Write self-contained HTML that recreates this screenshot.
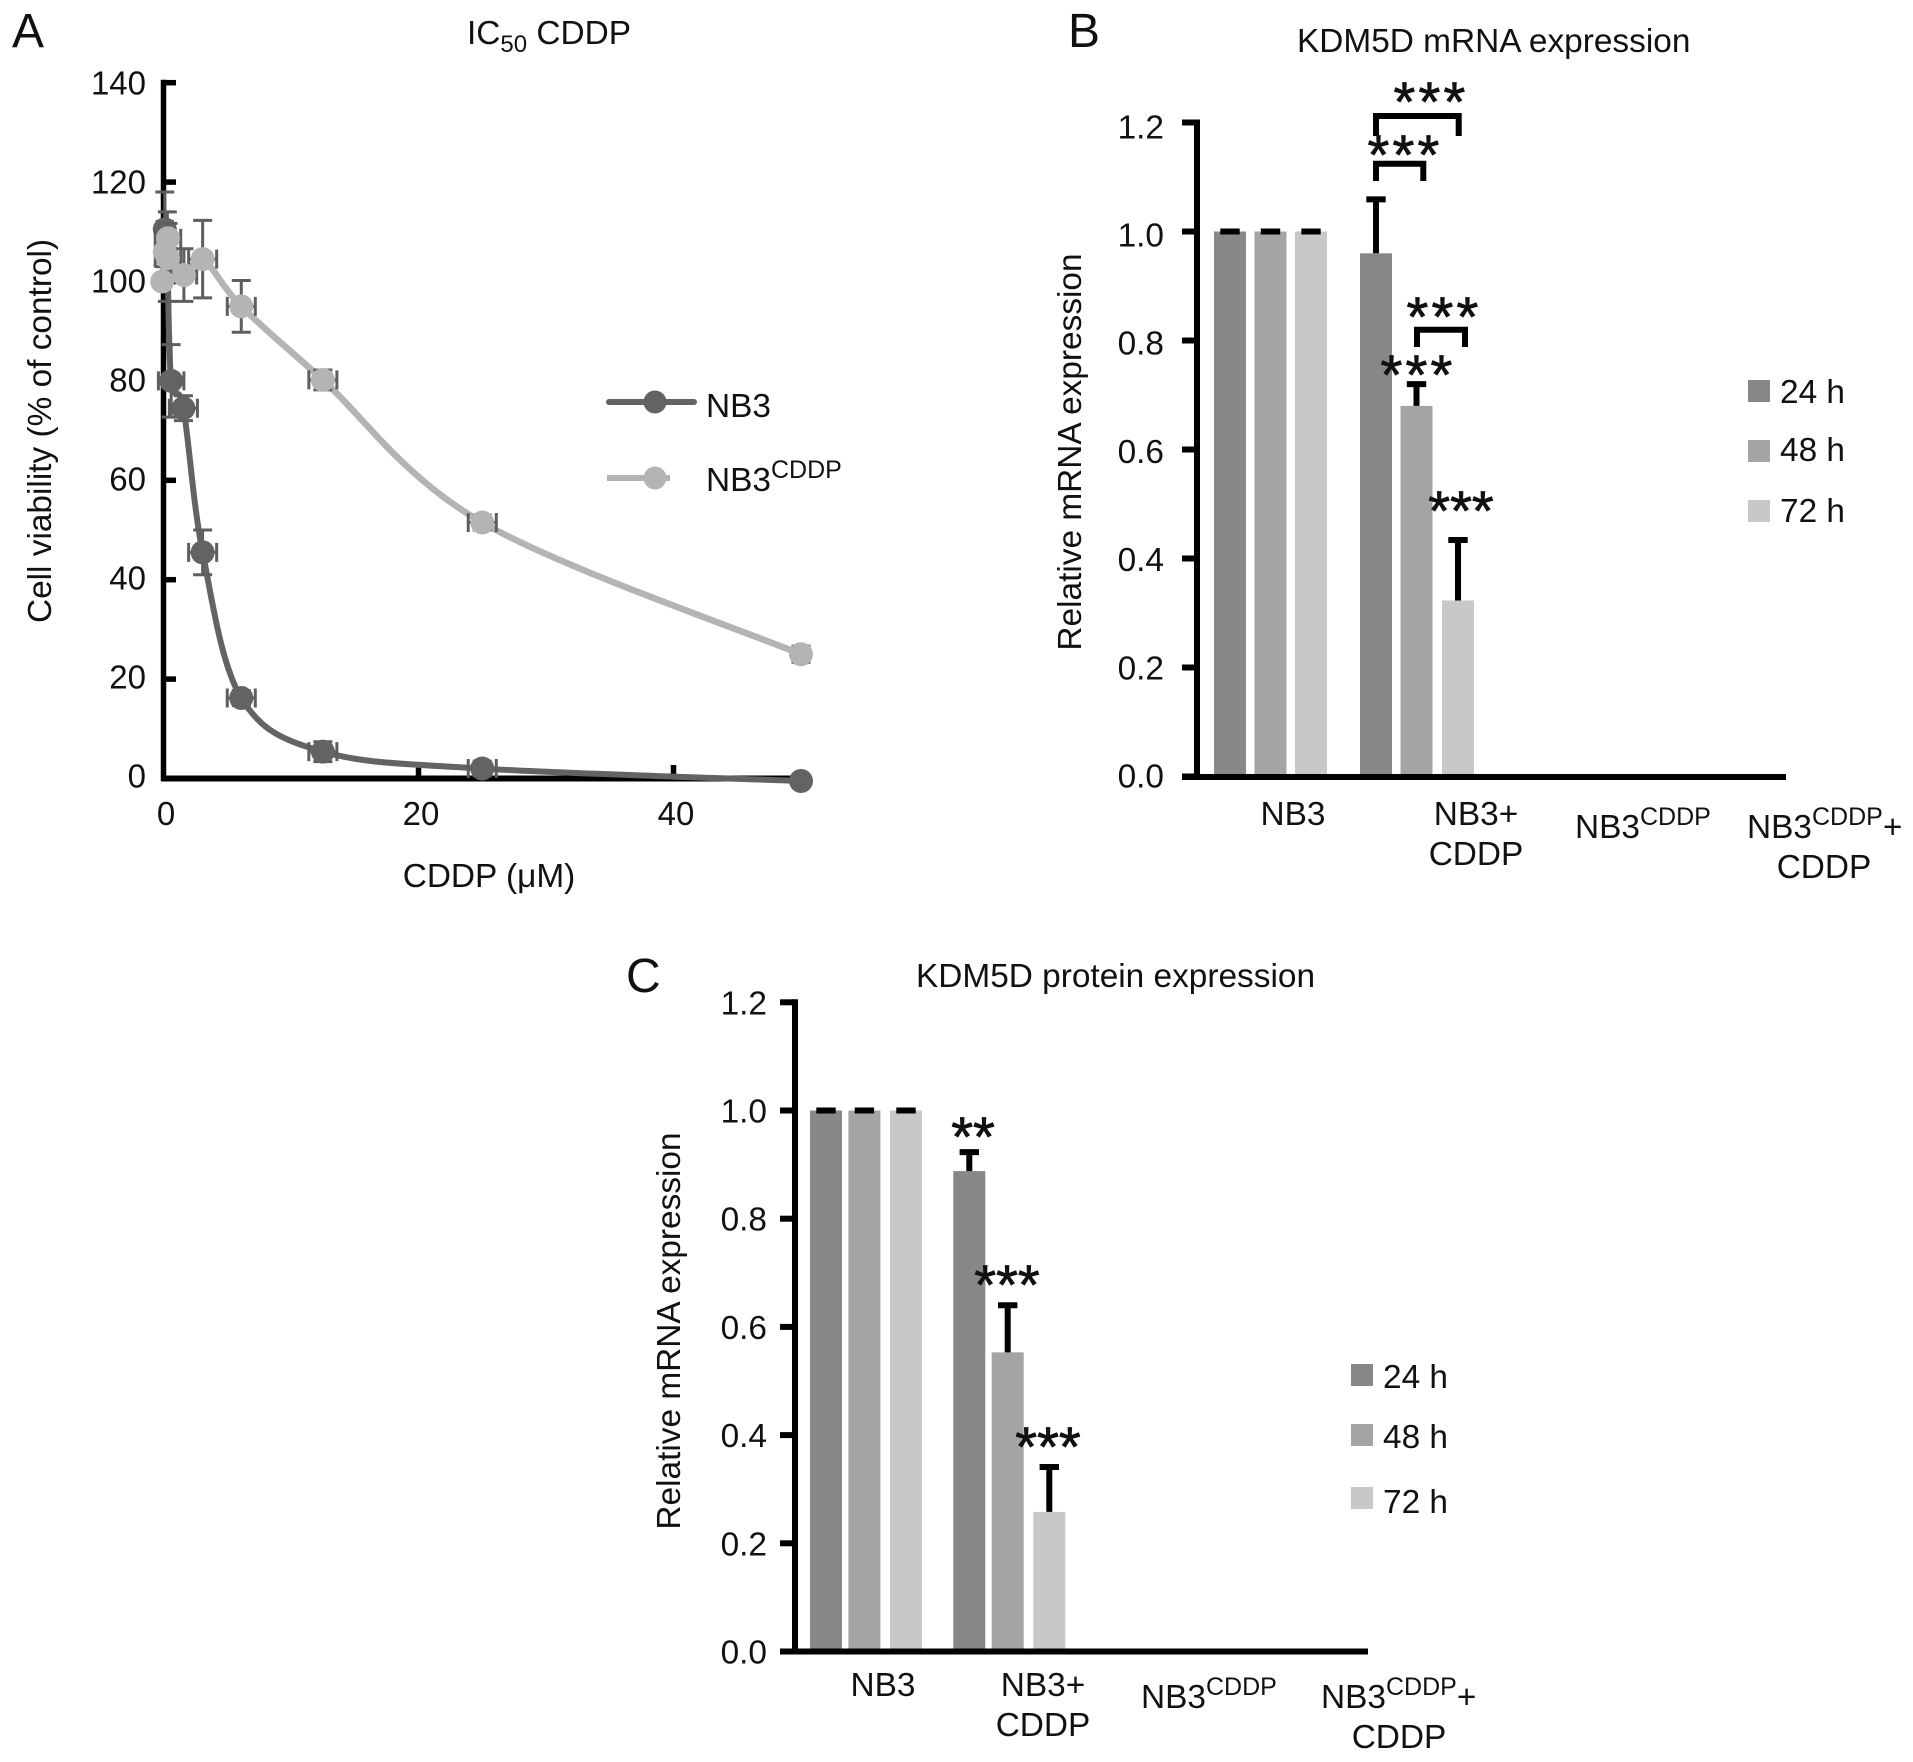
<!DOCTYPE html>
<html lang="en">
<head>
<meta charset="utf-8">
<title>IC50 CDDP and KDM5D expression</title>
<style>
html,body{margin:0;padding:0;background:#fff;width:1913px;height:1762px;overflow:hidden}
svg{display:block}
text{font-family:"Liberation Sans",Arial,sans-serif;font-size:33.4px;fill:#111}
.panel{font-size:48px}
.star{font-size:56px;text-anchor:middle;fill:#111;stroke:#111;stroke-width:.8px}
.wide{letter-spacing:3.2px}
.mid{text-anchor:middle}
.tick-a{font-size:33px}
</style>
</head>
<body>
<svg id="fig" width="1913" height="1762" viewBox="0 0 1913 1762" xmlns="http://www.w3.org/2000/svg">
  <g id="panelA">
    <text class="panel" x="12" y="47">A</text>
    <text x="467" y="44">IC<tspan dy="8" font-size="24">50</tspan><tspan dy="-8"> CDDP</tspan></text>
    <text class="mid" transform="translate(51,431) rotate(-90)">Cell viability (% of control)</text>
    <text class="mid" x="489" y="887">CDDP (μM)</text>
    <g>
      <line x1="609" y1="402" x2="694" y2="402" stroke="#636363" stroke-width="6" stroke-linecap="round"/>
      <circle cx="655" cy="402" r="11.500" fill="#636363"/>
      <text x="706" y="417">NB3</text>
      <line x1="607" y1="478" x2="670" y2="478" stroke="#b4b4b4" stroke-width="6"/>
      <circle cx="655" cy="478" r="11.500" fill="#b4b4b4"/>
      <text x="706" y="491">NB3<tspan dy="-13" font-size="25">CDDP</tspan></text>
    </g>
  </g>
  <g id="panelB">
    <text class="panel" x="1068" y="47">B</text>
    <text x="1297" y="52">KDM5D mRNA expression</text>
    <text class="mid" transform="translate(1081,452) rotate(-90)">Relative mRNA expression</text>
    <g>
      <text class="mid" x="1293" y="825">NB3</text>
      <text class="mid" x="1476" y="825">NB3+</text>
      <text class="mid" x="1476" y="865">CDDP</text>
      <text x="1575" y="838">NB3<tspan dy="-13" font-size="25">CDDP</tspan></text>
      <text x="1747" y="838">NB3<tspan dy="-13" font-size="25">CDDP</tspan><tspan dy="13">+</tspan></text>
      <text class="mid" x="1824" y="878">CDDP</text>
    </g>
    <g id="sigB">
      <path d="M1376 136V116H1458.700V136M1376 181V163.700H1423.300V181M1417 347V329.700H1465V347" fill="none" stroke="#000" stroke-width="6"/>
      <text class="star wide" x="1431" y="121">***</text>
      <text class="star wide" x="1405" y="174">***</text>
      <text class="star wide" x="1444" y="336">***</text>
      <text class="star wide" x="1418" y="394">***</text>
      <text class="star" x="1461" y="530">***</text>
    </g>
    <g>
      <rect x="1748" y="380" width="22" height="22" fill="#888888"/>
      <text x="1780" y="403">24 h</text>
      <rect x="1748" y="440" width="22" height="22" fill="#a4a4a4"/>
      <text x="1780" y="461">48 h</text>
      <rect x="1748" y="500" width="22" height="22" fill="#c8c8c8"/>
      <text x="1780" y="522">72 h</text>
    </g>
  </g>
  <g id="panelC">
    <text class="panel" x="626" y="992">C</text>
    <text x="916" y="987">KDM5D protein expression</text>
    <text class="mid" transform="translate(680,1331) rotate(-90)">Relative mRNA expression</text>
    <g>
      <text class="mid" x="883" y="1696">NB3</text>
      <text class="mid" x="1043" y="1696">NB3+</text>
      <text class="mid" x="1043" y="1736">CDDP</text>
      <text x="1141" y="1708">NB3<tspan dy="-13" font-size="25">CDDP</tspan></text>
      <text x="1321" y="1708">NB3<tspan dy="-13" font-size="25">CDDP</tspan><tspan dy="13">+</tspan></text>
      <text class="mid" x="1399" y="1748">CDDP</text>
    </g>
    <g id="sigC">
      <text class="star" x="973" y="1156">**</text>
      <text class="star" x="1007" y="1304">***</text>
      <text class="star" x="1048" y="1466">***</text>
    </g>
    <g>
      <rect x="1351" y="1364" width="22" height="22" fill="#888888"/>
      <text x="1383" y="1388">24 h</text>
      <rect x="1351" y="1424" width="22" height="22" fill="#a4a4a4"/>
      <text x="1383" y="1448">48 h</text>
      <rect x="1351" y="1487" width="22" height="22" fill="#c8c8c8"/>
      <text x="1383" y="1513">72 h</text>
    </g>
  </g>
</svg>
<script>
// ---------- Panel A data ----------
const doseTicks = [0, 20, 40];
const viabilityTicks = [0, 20, 40, 60, 80, 100, 120, 140];
const nb3Dose = [0.1, 0.3, 0.6, 1.56, 3.07, 6.1, 12.5, 25, 50];
const nb3Viability = [110.5, 105, 80, 74.5, 45.5, 16.2, 5.4, 2, -0.5];
const nb3ViabilityErr = [7.5, 9, 7.3, 2.5, 4.5, 1.5, 2, 1.5, 0.5];
const nb3DoseErr = [0.6, 0.6, 1, 1.1, 1.1, 1.1, 1.1, 1.1, 0];
const cddpDose = [-0.1, 0.1, 0.35, 0.35, 1.6, 3.07, 6.1, 12.5, 25, 50];
const cddpViability = [100, 106, 104.7, 108.7, 101.3, 104.5, 95, 80.2, 51.5, 25];
const cddpViabilityErr = [0, 3, 3, 3, 5.3, 7.8, 5.2, 2, 1.5, 1.6];
const cddpDoseErr = [0, 0.6, 1, 1, 1, 1.1, 1.1, 1.1, 1.1, 0.6];

// ---------- Panels B and C data ----------
const categories = ['NB3', 'NB3+CDDP', 'NB3CDDP', 'NB3CDDP+CDDP'];
const hours = ['24 h', '48 h', '72 h'];
const expressionTicks = ['0.0', '0.2', '0.4', '0.6', '0.8', '1.0', '1.2'];
const mrna24 = [1, 0.96, null, null];
const mrna48 = [1, 0.68, null, null];
const mrna72 = [1, 0.323, null, null];
const mrnaErr24 = [0, 0.099, null, null];
const mrnaErr48 = [0, 0.04, null, null];
const mrnaErr72 = [0, 0.111, null, null];
const protein24 = [1, 0.888, null, null];
const protein48 = [1, 0.553, null, null];
const protein72 = [1, 0.258, null, null];
const proteinErr24 = [0, 0.035, null, null];
const proteinErr48 = [0, 0.087, null, null];
const proteinErr72 = [0, 0.083, null, null];

// ---------- Scales ----------
const xA = v => 163.5 + v * 12.75;
const yA = v => 778.5 - v * 4.97;
const yB = v => 776.5 - v * 545;
const yC = v => 1651.5 - v * 541;
const barColors = ['#888888', '#a4a4a4', '#c8c8c8'];
const barXB = (g, s) => 1214 + g * 146 + s * 40.5 + (g === 1 && s === 2 ? 1 : 0);
const barXC = (g, s) => 810 + g * 143.3 + s * 38.4 + (s === 2 ? 3.2 : 0);
const BAR_W = 32;

const NS = 'http://www.w3.org/2000/svg';
function make(parent, tag, props) {
  const n = document.createElementNS(NS, tag);
  for (const k in props) n.setAttribute(k, props[k]);
  parent.appendChild(n);
  return n;
}
function segment(parent, x1, y1, x2, y2, stroke, width) {
  return make(parent, 'line', { x1, y1, x2, y2, stroke, 'stroke-width': width });
}

// Smooth path through the points, built from the axis functions
function curvePath(xs, ys) {
  const p = xs.map((x, i) => [xA(x), yA(ys[i])]);
  let d = 'M' + p[0][0] + ' ' + p[0][1];
  for (let i = 0; i < p.length - 1; i++) {
    const a = p[Math.max(i - 1, 0)], b = p[i], c = p[i + 1], e = p[Math.min(i + 2, p.length - 1)];
    const c1x = b[0] + (c[0] - a[0]) / 6, c1y = b[1] + (c[1] - a[1]) / 6;
    const c2x = c[0] - (e[0] - b[0]) / 6, c2y = c[1] - (e[1] - b[1]) / 6;
    d += 'C' + c1x + ' ' + c1y + ' ' + c2x + ' ' + c2y + ' ' + c[0] + ' ' + c[1];
  }
  return d;
}

// ---------- Panel A ----------
function drawSeries(root, xs, ys, yErr, xErr, color, lineWidth) {
  const line = make(root, 'path', { d: curvePath(xs, ys), fill: 'none', stroke: color, 'stroke-width': lineWidth, 'stroke-linejoin': 'round' });
  
  
  xs.forEach((x, i) => {
    const cx = xA(x), cy = yA(ys[i]);
    const g = make(root, 'g', { stroke: '#5e5e5e', 'stroke-width': 3, fill: 'none' });
    
    
    if (yErr[i] > 0) {
      const top = yA(ys[i] + yErr[i]), bot = yA(ys[i] - yErr[i]);
      make(g, 'path', { d: 'M' + cx + ' ' + top + 'V' + bot + 'M' + (cx - 9.5) + ' ' + top + 'H' + (cx + 9.5) + 'M' + (cx - 9.5) + ' ' + bot + 'H' + (cx + 9.5) });
    }
    if (xErr[i] > 0) {
      const lft = xA(x - xErr[i]), rgt = xA(x + xErr[i]);
      make(g, 'path', { d: 'M' + lft + ' ' + cy + 'H' + rgt + 'M' + lft + ' ' + (cy - 9.5) + 'V' + (cy + 9.5) + 'M' + rgt + ' ' + (cy - 9.5) + 'V' + (cy + 9.5) });
    }
  });
  xs.forEach((x, i) => {
    const dot = make(root, 'circle', { cx: xA(x), cy: yA(ys[i]), r: 12, fill: color });
    
    
  });
}

const panelA = document.getElementById('panelA');
const axesA = make(panelA, 'g', {});


const yAxisA = segment(axesA, 163.5, yA(140) - 3, 163.5, 781, '#000', 5.5);


const xAxisA = segment(axesA, 161, 778.5, 800, 778.5, '#000', 6);


viabilityTicks.forEach(v => {
  if (v > 0) {
    const t = segment(axesA, 163.5, yA(v), 176, yA(v), '#000', 5.5);
    
    
  }
  const lab = make(axesA, 'text', { x: 146, y: yA(v) + 9 + v * 0.02, 'text-anchor': 'end', class: 'tick-a' });
  lab.textContent = String(v);
  
  
});
doseTicks.forEach(v => {
  if (v > 0) {
    const t = segment(axesA, xA(v), 765, xA(v), 778, '#000', 5.5);
    
    
  }
  const lab = make(axesA, 'text', { x: xA(v) + 2.5, y: 825, 'text-anchor': 'middle', class: 'tick-a' });
  lab.textContent = String(v);
  
  
});
drawSeries(panelA, nb3Dose, nb3Viability, nb3ViabilityErr, nb3DoseErr, '#636363', 6);
drawSeries(panelA, cddpDose, cddpViability, cddpViabilityErr, cddpDoseErr, '#b4b4b4', 6.5);

// ---------- Panels B and C ----------
function drawBars(root, series, errors, y, barX) {
  const zeroY = y(0);
  series.forEach((vals, s) => {
    categories.forEach((cat, g) => {
      const v = vals[g];
      if (v === null) return;
      const bx = barX(g, s), top = y(v);
      const r = make(root, 'rect', { x: bx, y: top, width: BAR_W, height: zeroY - top, fill: barColors[s] });
      
      
      const cx = bx + BAR_W / 2, capY = y(v + errors[s][g]);
      const e = make(root, 'path', {
        d: 'M' + cx + ' ' + top + 'V' + capY + 'M' + (cx - 9.7) + ' ' + capY + 'H' + (cx + 9.7),
        stroke: '#000', 'stroke-width': 6, fill: 'none'
      });
      
      
    });
  });
}
function drawBarAxes(root, y, axisX, baseY, endX, labelX, labelOffset) {
  const ya = segment(root, axisX, y(1.2) - 3, axisX, baseY + 3, '#000', 6);
  
  
  const xa = segment(root, axisX - 15, baseY, endX, baseY, '#000', 6);
  
  
  expressionTicks.forEach(label => {
    const v = Number(label);
    const t = segment(root, axisX - 15, y(v), axisX, y(v), '#000', 6);
    
    
    const lab = make(root, 'text', { x: labelX, y: baseY + labelOffset - v * 541, 'text-anchor': 'end' });
    lab.textContent = label;
    
    
  });
}
const panelB = document.getElementById('panelB');
const panelC = document.getElementById('panelC');
drawBars(panelB, [mrna24, mrna48, mrna72], [mrnaErr24, mrnaErr48, mrnaErr72], yB, barXB);
drawBarAxes(panelB, yB, 1197, 777, 1786, 1164, 10.5);
drawBars(panelC, [protein24, protein48, protein72], [proteinErr24, proteinErr48, proteinErr72], yC, barXC);
drawBarAxes(panelC, yC, 795, 1651.5, 1368, 767, 12);
// Significance marks sit on top of the bars
panelB.appendChild(document.getElementById('sigB'));
panelC.appendChild(document.getElementById('sigC'));
</script>
</body>
</html>
